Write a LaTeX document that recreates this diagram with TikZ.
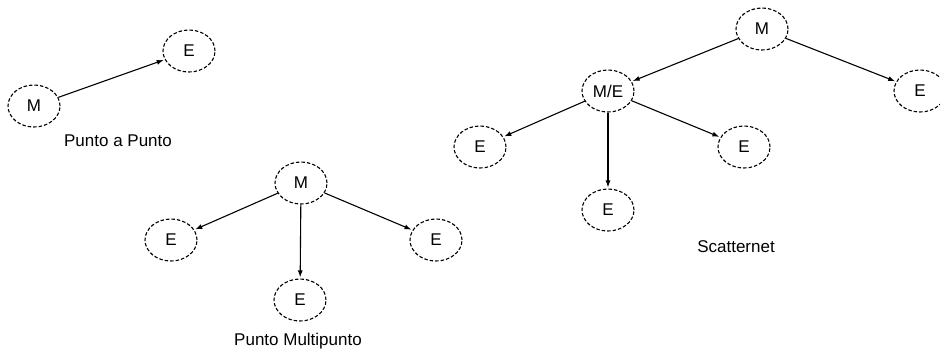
\documentclass[tikz,border=0pt]{standalone}
\usepackage{fontspec}
\setmainfont{Liberation Sans}
\usetikzlibrary{shapes.geometric,arrows.meta}
\begin{document}
\begin{tikzpicture}[x=1pt,y=-1pt,
  dev/.style={ellipse,draw,line width=1.1pt,dash pattern=on 3.5pt off 2pt,
    minimum width=52pt,minimum height=42pt,inner sep=0pt,
    font=\fontsize{17}{20}\selectfont},
  link/.style={line width=1.1pt,-{Latex[length=7pt,width=5pt]},shorten >=1pt},
  caption/.style={font=\fontsize{17}{20}\selectfont,inner sep=0pt}]
\useasboundingbox (0,0) rectangle (940,354);

% Punto a Punto
\node[dev] (pm) at (34,106) {M};
\node[dev] (pe) at (189,51) {E};
\draw[link] (pm) -- (pe);
\node[caption] (pcap) at (118,141) {Punto a Punto};

% Punto Multipunto
\node[dev] (mm) at (301,183) {M};
\node[dev] (me1) at (171,240) {E};
\node[dev] (me2) at (436,240) {E};
\node[dev] (me3) at (300,300) {E};
\draw[link] (mm) -- (me1);
\draw[link] (mm) -- (me2);
\draw[link] (mm) -- (me3);
\node[caption] (mcap) at (298,341) {Punto Multipunto};

% Scatternet
\node[dev] (sm) at (762,29) {M};
\node[dev] (sme) at (608,91) {M/E};
\node[dev] (se1) at (920,91) {E};
\node[dev] (se2) at (480,147) {E};
\node[dev] (se3) at (744,147) {E};
\node[dev] (se4) at (608,210) {E};
\draw[link] (sm) -- (sme);
\draw[link] (sm) -- (se1);
\draw[link] (sme) -- (se2);
\draw[link] (sme) -- (se4);
\draw[link] (sme) -- (se3);
\node[caption] (scap) at (736,247) {Scatternet};
\end{tikzpicture}
\end{document}
